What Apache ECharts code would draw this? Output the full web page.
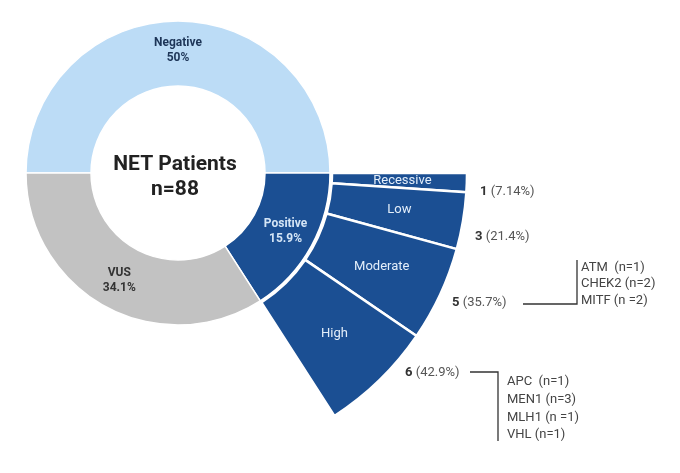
<!DOCTYPE html>
<html>
<head>
<meta charset="utf-8">
<script src="https://cdn.jsdelivr.net/npm/echarts@6/dist/echarts.min.js"></script>
<style>
  html, body {margin: 0; padding: 0; background: #fff;}
  #chart {width: 680px; height: 473px;}
</style>
</head>
<body>
<div id="chart"></div>
<script>
// main ring
var mainNames = ['Negative', 'Positive', 'VUS'];
var mainValues = [50, 15.9, 34.1];
var mainColors = ['#bcdcf6', '#1b4f93', '#c2c2c2'];
var mainLabelColors = ['#1d3557', '#d4e5f6', '#333333'];

// breakdown of positive patients
var riskNames = ['Recessive', 'Low', 'Moderate', 'High'];
var riskCounts = [1, 3, 5, 6];
var riskPct = ['7.14%', '21.4%', '35.7%', '42.9%'];

// genes
var moderateGenes = ['ATM  (n=1)', 'CHEK2 (n=2)', 'MITF (n =2)'];
var highGenes = ['APC  (n=1)', 'MEN1 (n=3)', 'MLH1 (n =1)', 'VHL (n=1)'];

var center = [178, 173];
// fan opens over the positive slice
var posAngle = mainValues[1] / 100 * 360;

var chart = echarts.init(document.getElementById('chart'));

var mainData = [];
for (var i = 0; i < mainNames.length; i++) {
    mainData.push({
        name: mainNames[i],
        value: mainValues[i],
        itemStyle: {color: mainColors[i]},
        label: {color: mainLabelColors[i]}
    });
}

var riskData = [];
for (var j = 0; j < riskNames.length; j++) {
    riskData.push({name: riskNames[j], value: riskCounts[j]});
}

// text next to the fan: "n (pct)"
var riskLabelPos = [[480, 192], [475, 237], [452, 303], [405, 373]];
var graphics = [
    {
        type: 'text',
        x: center[0] - 3, y: 177,
        style: {
            text: 'NET Patients\nn=88',
            align: 'center', verticalAlign: 'middle',
            font: 'bold 21px Roboto', fill: '#222', lineHeight: 25
        }
    }
];
for (var k = 0; k < riskCounts.length; k++) {
    graphics.push({
        type: 'text',
        x: riskLabelPos[k][0], y: riskLabelPos[k][1],
        style: {
            text: '{b|' + riskCounts[k] + '} {p|(' + riskPct[k] + ')}',
            verticalAlign: 'middle',
            rich: {
                b: {fontFamily: 'Roboto', fontWeight: 'bold', fontSize: 13, fill: '#333'},
                p: {fontFamily: 'Roboto', fontSize: 13, fill: '#555'}
            }
        }
    });
}
// brackets
graphics.push({
    type: 'polyline',
    shape: {points: [[523, 304], [577, 304], [577, 260]]},
    style: {stroke: '#333', lineWidth: 1.3, fill: null}
});
graphics.push({
    type: 'polyline',
    shape: {points: [[470, 372], [498, 372], [498, 441]]},
    style: {stroke: '#333', lineWidth: 1.3, fill: null}
});
graphics.push({
    type: 'text', x: 581, y: 259,
    style: {text: moderateGenes.join('\n'), font: '13px Roboto', fill: '#444', lineHeight: 16.5, verticalAlign: 'top'}
});
graphics.push({
    type: 'text', x: 507, y: 373,
    style: {text: highGenes.join('\n'), font: '13px Roboto', fill: '#444', lineHeight: 17.7, verticalAlign: 'top'}
});

var option = {
    animation: false,
    series: [
        {
            type: 'pie',
            center: center,
            radius: [87, 152],
            startAngle: 180,
            clockwise: true,
            avoidLabelOverlap: false,
            itemStyle: {borderColor: '#fff', borderWidth: 1.5},
            label: {
                show: true,
                position: 'inside',
                formatter: '{b}\n{c}%',
                fontFamily: 'Roboto',
                fontWeight: 'bold',
                fontSize: 12,
                lineHeight: 15
            },
            labelLine: {show: false},
            data: mainData
        },
        {
            type: 'pie',
            center: center,
            radius: [154, 289],
            startAngle: 0,
            endAngle: -posAngle,
            clockwise: true,
            avoidLabelOverlap: false,
            itemStyle: {color: '#1b4f93', borderColor: '#fff', borderWidth: 2.5},
            label: {
                show: true,
                position: 'inside',
                formatter: '{b}',
                fontFamily: 'Roboto',
                fontSize: 13,
                color: '#e3eefa'
            },
            labelLine: {show: false},
            data: riskData
        }
    ],
    graphic: graphics
};
chart.setOption(option);
</script>
</body>
</html>
